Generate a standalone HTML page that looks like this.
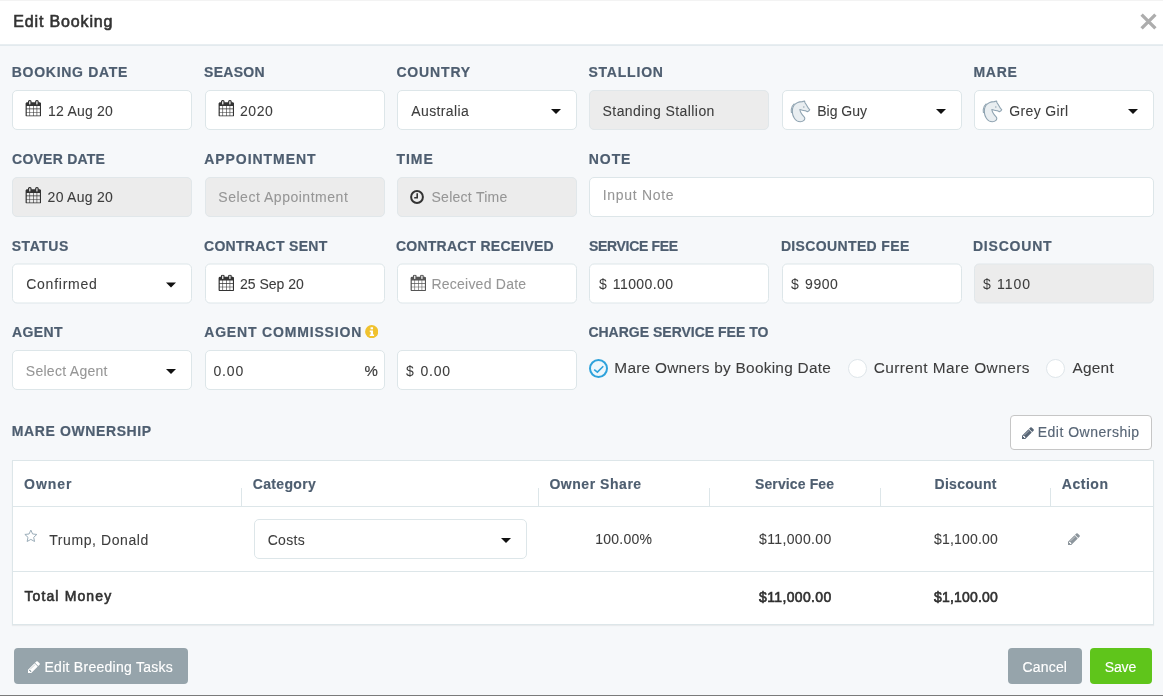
<!DOCTYPE html>
<html lang="en">
<head>
<meta charset="utf-8">
<title>Edit Booking</title>
<style>
*{box-sizing:border-box;margin:0;padding:0}
html,body{width:1163px;height:696px;overflow:hidden}
body{background:#f6f8fa;font-family:"Liberation Sans",sans-serif;font-size:14px;color:#3a3f44;position:relative}
.hdr{position:absolute;left:0;top:0;width:1163px;height:46px;background:#fff;border-bottom:1px solid #e3eaee;border-top:1px solid #f3f3f3}
.hdr:after{content:'';position:absolute;left:0;top:43px;width:1163px;height:1px;background:#e8eef1}
.close{position:absolute;left:1139.6px;top:12.4px;width:17px;height:17px}
.title,.lbl,.txt,.th{position:absolute;white-space:nowrap;line-height:16px;font-size:14px;z-index:5}
.title{font-weight:400;color:#333;-webkit-text-stroke:.6px #333}
.lbl{font-weight:700;color:#4e5e70;-webkit-text-stroke:.2px #4e5e70}
.th{font-weight:700;color:#4e5e70;-webkit-text-stroke:.15px #4e5e70}
.txt{color:#3d3d3d;-webkit-text-stroke:.08px #3d3d3d}
.txt.ph{color:#969696;-webkit-text-stroke:.08px #969696}
.txt.eo{color:#586676;-webkit-text-stroke:.15px #586676}
.txt.b{font-weight:400;color:#303030;-webkit-text-stroke:.6px #303030}
.txt.w{color:#fff;-webkit-text-stroke:.15px #fff}
.inp{position:absolute;width:180px;height:40px;background:#fff;border:1px solid #dde6e9;border-radius:5px}
.inp.dis{background:#ececec;border-color:#e1e7ea}
.caret{position:absolute;right:15px;top:18px;width:0;height:0;border-left:5px solid transparent;border-right:5px solid transparent;border-top:5px solid #111}
.cal{position:absolute;left:11.8px;top:9.3px;width:16.7px;height:16.6px}
.horse{position:absolute;left:0;top:0;width:32px;height:38px}
.foot{position:absolute;left:0;top:695px;width:1163px;height:1px;background:#7a7a7a}
.btn{position:absolute;top:648px;height:36px;border-radius:4px}
.radio{position:absolute;top:359px;width:19px;height:19px;border-radius:50%;background:#fff;border:1px solid #dfe6ea}
.radio.on{border:2px solid #2ea2db;background:#eef7fc}
.tbl{position:absolute;left:12px;top:460px;width:1142px;height:165px;background:#fff;border:1px solid #dde6e9;box-shadow:0 1px 1px rgba(0,0,0,.05)}
.hline{position:absolute;left:0;width:1140px;height:1px;background:#dde6e9}
.vsep{position:absolute;top:27px;width:1px;height:18px;background:#dde6e9}
.sym{position:absolute;white-space:nowrap;line-height:16px;z-index:5;color:#3b3b3b}
</style>
</head>
<body>
<svg width="0" height="0" style="position:absolute">
  <defs>
    <symbol id="cal" viewBox="0 0 1792 1792" preserveAspectRatio="none"><path d="M192 1664h288v-288h-288v288zM544 1664h320v-288h-320v288zM192 1312h288v-320h-288v320zM544 1312h320v-320h-320v320zM192 928h288v-288h-288v288zM928 1664h320v-288h-320v288zM544 928h320v-288h-320v288zM1312 1664h288v-288h-288v288zM928 1312h320v-320h-320v320zM576 448v-288q0 -13 -9.5 -22.5t-22.5 -9.5h-64q-13 0 -22.5 9.5t-9.5 22.5v288q0 13 9.5 22.5t22.5 9.5h64q13 0 22.5 -9.5t9.5 -22.5zM1312 1312h288v-320h-288v320zM928 928h320v-288h-320v288zM1312 928h288v-288h-288v288zM1344 448v-288q0 -13 -9.5 -22.5t-22.5 -9.5h-64q-13 0 -22.5 9.5t-9.5 22.5v288q0 13 9.5 22.5t22.5 9.5h64q13 0 22.5 -9.5t9.5 -22.5zM1728 384v1280q0 52 -38 90t-90 38h-1408q-52 0 -90 -38t-38 -90v-1280q0 -52 38 -90t90 -38h128v-96q0 -66 47 -113t113 -47h64q66 0 113 47t47 113v96h384v-96q0 -66 47 -113t113 -47h64q66 0 113 47t47 113v96h128q52 0 90 38t38 90z"/></symbol>
    <symbol id="pencil" viewBox="0 0 1792 1792"><path d="M491 1536l91 -91l-235 -235l-91 91v107h128v128h107zM1014 608q0 -22 -22 -22q-10 0 -17 7l-542 542q-7 7 -7 17q0 22 22 22q10 0 17 -7l542 -542q7 -7 7 -17zM960 416l416 416l-832 832h-416v-416zM1643 512q0 53 -37 90l-166 166l-416 -416l166 -165q36 -38 90 -38q53 0 91 38l235 234q37 39 37 91z"/></symbol>
    <symbol id="horse" viewBox="0 0 32 38"><path d="M11.4 12.6 C9.6 14.2 8.5 16.4 8.3 18.4 C8.2 19.6 8.2 20.8 8.5 22" fill="none" stroke="#93a6b3" stroke-width="1.1"/><path d="M21.5 10 L19.3 10.6 C17.5 10.6 16 10.8 14.7 11.4 C13.2 12 12 13 11.2 14 C10.2 15.4 9.6 16.8 9.5 18 C9.3 19.6 9.3 21 9.5 22.4 C9.7 24 10.2 25.4 10.9 26.4 C11.7 27.8 12.7 29 14 29.9 C15 30.5 16.3 30.7 17.5 30.7 C18.7 30.7 19.8 30.4 20.6 29.7 C21.4 29 21.8 28.2 21.8 27.4 C21.8 26.8 21.5 26.2 20.9 25.6 C19.8 24.5 19 23.6 18.4 22.5 C17.6 21.2 17 19.8 16.8 18.5 C17.6 18.8 18.4 19 19.3 19.2 C20.5 19.5 21.8 19.7 22.9 19.9 L24.3 20.8 L26 19.8 L26.7 18.7 L25.5 17.4 C24.6 16 23.8 14.6 23 13.3 L22 11.7 Z" fill="#e9eef1" stroke="#8fa3b1" stroke-width="1.1" stroke-linejoin="round"/><circle cx="20.8" cy="15.9" r=".75" fill="#93a6b3"/></symbol>
  </defs>
</svg>

<div class="hdr">
  <svg class="close" viewBox="0 0 16 16"><path d="M1.5 1.5 L14.5 14.5 M14.5 1.5 L1.5 14.5" stroke="#adadad" stroke-width="3.1" fill="none"/></svg>
</div>

<!-- row 1 boxes -->
<div class="inp" style="left:12px;top:90px"><svg class="cal" fill="#333"><use href="#cal"/></svg></div>
<div class="inp" style="left:205px;top:90px"><svg class="cal" fill="#333"><use href="#cal"/></svg></div>
<div class="inp" style="left:397px;top:90px"><i class="caret"></i></div>
<div class="inp dis" style="left:589px;top:90px"></div>
<div class="inp" style="left:782px;top:90px"><svg class="horse"><use href="#horse"/></svg><i class="caret"></i></div>
<div class="inp" style="left:974px;top:90px"><svg class="horse"><use href="#horse"/></svg><i class="caret"></i></div>

<!-- row 2 boxes -->
<div class="inp dis" style="left:12px;top:177px"><svg class="cal" fill="#333"><use href="#cal"/></svg></div>
<div class="inp dis" style="left:205px;top:177px"></div>
<div class="inp dis" style="left:397px;top:177px"><svg viewBox="0 0 16 16" style="position:absolute;left:11.4px;top:10.8px;width:16px;height:16px"><circle cx="8" cy="8" r="5.9" fill="none" stroke="#333" stroke-width="2"/><path d="M8.2 4.2 V8.7 H5.2" fill="none" stroke="#333" stroke-width="1.6"/></svg></div>
<div class="inp" style="left:589px;top:177px;width:565px;height:40px"></div>

<!-- row 3 boxes -->
<div style="position:absolute;left:0;top:0;transform:translateY(-.5px)">
<div class="inp" style="left:12px;top:264px"><i class="caret" style="top:18px"></i></div>
<div class="inp" style="left:205px;top:264px"><svg class="cal" fill="#333" style="top:10.1px"><use href="#cal"/></svg></div>
<div class="inp" style="left:397px;top:264px"><svg class="cal" fill="#555" style="top:10.1px"><use href="#cal"/></svg></div>
<div class="inp" style="left:589px;top:264px"></div>
<div class="inp" style="left:782px;top:264px"></div>
<div class="inp dis" style="left:974px;top:264px"></div>
</div>
<div class="sym" style="left:599px;top:276px">$</div>
<div class="sym" style="left:791px;top:276px">$</div>
<div class="sym" style="left:983px;top:276px">$</div>

<!-- row 4 boxes -->
<svg style="position:absolute;left:364.8px;top:325px;width:13.4px;height:13.4px" viewBox="0 0 13 13"><circle cx="6.5" cy="6.5" r="6.4" fill="#f0c22e"/><rect x="5.4" y="2.2" width="2.4" height="2" fill="#fff"/><path d="M4.6 5.4 H7.8 V9.3 H8.8 V10.6 H4.6 V9.3 H5.5 V6.7 H4.6 Z" fill="#fff"/></svg>
<div class="inp" style="left:12px;top:350px"><i class="caret"></i></div>
<div class="inp" style="left:205px;top:350px"></div>
<div class="inp" style="left:397px;top:350px"></div>
<div class="sym" style="left:364.6px;top:362px;font-size:15px;line-height:17px;-webkit-text-stroke:.2px #3b3b3b">%</div>
<div class="sym" style="left:406px;top:363px">$</div>

<div class="radio on" style="left:589px"><svg viewBox="0 0 16 16" style="position:absolute;left:0;top:0;width:16px;height:16px"><path d="M3.2 8.7 L6.4 11.1 L12.3 5.3" fill="none" stroke="#2ea2db" stroke-width="1.6"/></svg></div>
<div class="radio" style="left:848px"></div>
<div class="radio" style="left:1046px"></div>

<!-- mare ownership -->
<div style="position:absolute;left:1010px;top:415px;width:142px;height:35px;background:#fff;border:1px solid #c6c6c6;border-radius:4px">
  <svg style="position:absolute;left:10px;top:10px;width:14px;height:14px" fill="#586676"><use href="#pencil"/></svg>
</div>

<div class="tbl">
  <div class="hline" style="top:45px"></div>
  <div class="hline" style="top:110px"></div>
  <div class="vsep" style="left:228px"></div>
  <div class="vsep" style="left:525px"></div>
  <div class="vsep" style="left:696px"></div>
  <div class="vsep" style="left:867px"></div>
  <div class="vsep" style="left:1037px"></div>
  <svg style="position:absolute;left:10px;top:68px;width:16px;height:16px" viewBox="0 0 16 16"><path d="M7.85 1.10 L9.61 4.97 L13.84 5.45 L10.70 8.33 L11.55 12.50 L7.85 10.40 L4.15 12.50 L5.00 8.33 L1.86 5.45 L6.09 4.97 Z" fill="none" stroke="#9badb9" stroke-width="1" stroke-linejoin="round"/></svg>
  <div class="inp" style="left:241px;top:58px;width:273px;height:40px"><i class="caret"></i></div>
  <svg style="position:absolute;left:1054px;top:71px;width:14px;height:14px" fill="#8c959c"><use href="#pencil"/></svg>
</div>

<!-- footer buttons -->
<div class="btn" style="left:14px;width:174px;background:#96a4ab">
  <svg style="position:absolute;left:13px;top:12px;width:14px;height:14px" fill="#fff"><use href="#pencil"/></svg>
</div>
<div class="btn" style="left:1008px;width:74px;background:#96a4ab"></div>
<div class="btn" style="left:1090px;width:62px;background:#5fc51b"></div>

<div class="title" style="left:13.2px;top:13px;letter-spacing:0.86px;font-size:16px;line-height:17px">Edit Booking</div>
<div class="lbl" style="left:11.8px;top:64px;letter-spacing:0.71px">BOOKING DATE</div>
<div class="lbl" style="left:204.1px;top:64px;letter-spacing:0.26px">SEASON</div>
<div class="lbl" style="left:396.4px;top:64px;letter-spacing:0.85px">COUNTRY</div>
<div class="lbl" style="left:588.4px;top:64px;letter-spacing:0.8px">STALLION</div>
<div class="lbl" style="left:973.4px;top:64px;letter-spacing:0.74px">MARE</div>
<div class="lbl" style="left:12.1px;top:151px;letter-spacing:0.23px">COVER DATE</div>
<div class="lbl" style="left:204.2px;top:151px;letter-spacing:0.95px">APPOINTMENT</div>
<div class="lbl" style="left:396.5px;top:151px;letter-spacing:0.96px">TIME</div>
<div class="lbl" style="left:588.8px;top:151px;letter-spacing:0.92px">NOTE</div>
<div class="lbl" style="left:11.7px;top:238px;letter-spacing:0.55px">STATUS</div>
<div class="lbl" style="left:204.0px;top:238px;letter-spacing:0.29px">CONTRACT SENT</div>
<div class="lbl" style="left:396.0px;top:238px;letter-spacing:0.23px">CONTRACT RECEIVED</div>
<div class="lbl" style="left:589.1px;top:238px;letter-spacing:-0.34px">SERVICE FEE</div>
<div class="lbl" style="left:780.9px;top:238px;letter-spacing:0.36px">DISCOUNTED FEE</div>
<div class="lbl" style="left:972.9px;top:238px;letter-spacing:0.81px">DISCOUNT</div>
<div class="lbl" style="left:12.1px;top:324px;letter-spacing:0.37px">AGENT</div>
<div class="lbl" style="left:204.2px;top:324px;letter-spacing:0.83px">AGENT COMMISSION</div>
<div class="lbl" style="left:588.4px;top:324px;letter-spacing:-0.0px">CHARGE SERVICE FEE TO</div>
<div class="lbl" style="left:11.8px;top:423px;letter-spacing:0.61px">MARE OWNERSHIP</div>
<div class="txt" style="left:48.1px;top:103px;letter-spacing:0.21px">12 Aug 20</div>
<div class="txt" style="left:240.0px;top:103px;letter-spacing:0.57px">2020</div>
<div class="txt" style="left:411.3px;top:103px;letter-spacing:0.37px">Australia</div>
<div class="txt" style="left:602.6px;top:103px;letter-spacing:0.42px">Standing Stallion</div>
<div class="txt" style="left:817.3px;top:103px;letter-spacing:-0.03px">Big Guy</div>
<div class="txt" style="left:1009.3px;top:103px;letter-spacing:0.35px">Grey Girl</div>
<div class="txt" style="left:47.6px;top:189px;letter-spacing:0.28px">20 Aug 20</div>
<div class="txt ph" style="left:218.3px;top:189px;letter-spacing:0.52px">Select Appointment</div>
<div class="txt ph" style="left:431.5px;top:189px;letter-spacing:0.27px">Select Time</div>
<div class="txt ph" style="left:602.8px;top:187px;letter-spacing:0.68px">Input Note</div>
<div class="txt" style="left:26.2px;top:276px;letter-spacing:0.76px">Confirmed</div>
<div class="txt" style="left:239.9px;top:276px;letter-spacing:0.01px">25 Sep 20</div>
<div class="txt ph" style="left:431.4px;top:276px;letter-spacing:0.24px">Received Date</div>
<div class="txt" style="left:612.8px;top:276px;letter-spacing:0.41px">11000.00</div>
<div class="txt" style="left:805.1px;top:276px;letter-spacing:0.55px">9900</div>
<div class="txt" style="left:997.1px;top:276px;letter-spacing:0.95px">1100</div>
<div class="txt ph" style="left:25.8px;top:363px;letter-spacing:0.28px">Select Agent</div>
<div class="txt" style="left:213.4px;top:363px;letter-spacing:0.87px">0.00</div>
<div class="txt" style="left:420.4px;top:363px;letter-spacing:0.78px">0.00</div>
<div class="txt" style="left:614.3px;top:359px;letter-spacing:0.27px;font-size:15.4px;line-height:17px">Mare Owners by Booking Date</div>
<div class="txt" style="left:873.7px;top:359px;letter-spacing:0.43px;font-size:15.4px;line-height:17px">Current Mare Owners</div>
<div class="txt" style="left:1072.5px;top:359px;letter-spacing:0.24px;font-size:15.4px;line-height:17px">Agent</div>
<div class="txt eo" style="left:1037.7px;top:424px;letter-spacing:0.5px">Edit Ownership</div>
<div class="th" style="left:24.1px;top:476px;letter-spacing:0.97px">Owner</div>
<div class="th" style="left:252.8px;top:476px;letter-spacing:0.32px">Category</div>
<div class="th" style="left:549.4px;top:476px;letter-spacing:0.54px">Owner Share</div>
<div class="th" style="left:755.0px;top:476px;letter-spacing:0.12px">Service Fee</div>
<div class="th" style="left:934.5px;top:476px;letter-spacing:0.29px">Discount</div>
<div class="th" style="left:1061.8px;top:476px;letter-spacing:0.53px">Action</div>
<div class="txt" style="left:49.2px;top:532px;letter-spacing:0.59px">Trump, Donald</div>
<div class="txt" style="left:267.7px;top:532px;letter-spacing:0.32px">Costs</div>
<div class="txt" style="left:595.2px;top:531px;letter-spacing:0.25px">100.00%</div>
<div class="txt" style="left:759.0px;top:531px;letter-spacing:0.36px">$11,000.00</div>
<div class="txt" style="left:934.0px;top:531px;letter-spacing:0.18px">$1,100.00</div>
<div class="txt b" style="left:24.4px;top:588px;letter-spacing:1.13px">Total Money</div>
<div class="txt b" style="left:759.0px;top:589px;letter-spacing:0.36px">$11,000.00</div>
<div class="txt b" style="left:934.0px;top:589px;letter-spacing:0.18px">$1,100.00</div>
<div class="txt w" style="left:44.5px;top:659px;letter-spacing:0.27px">Edit Breeding Tasks</div>
<div class="txt w" style="left:1022.6px;top:659px;letter-spacing:0.15px">Cancel</div>
<div class="txt w" style="left:1104.7px;top:659px;letter-spacing:-0.1px">Save</div>

<div class="foot"></div>
</body>
</html>
